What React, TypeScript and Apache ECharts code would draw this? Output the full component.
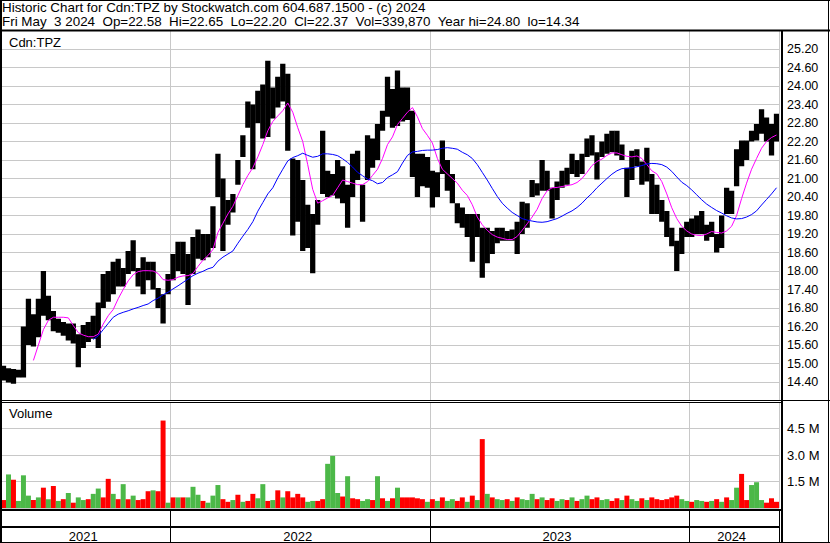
import React, { useEffect, useRef } from 'react';
import * as echarts from 'echarts';

// ---- data (weekly) ----
const FIRST_WEEK = '2021-05-10';

const WEEK_HIGH = [
  14.93, 14.85, 14.82, 14.8, 16.2, 17.1, 16.6, 17.1, 18.0, 17.2,
  16.7, 16.45, 16.35, 16.3, 16.3, 15.95, 16.25, 16.35, 16.55, 16.98,
  17.9, 18.0, 18.3, 18.4, 18.1, 18.65, 19.0, 18.1, 18.45, 18.3,
  18.3, 17.45, 17.25, 17.9, 18.55, 18.95, 18.95, 18.55, 19.1, 19.35,
  19.2, 19.2, 20.1, 21.8, 21.0, 20.3, 20.5, 21.6, 22.4, 23.5,
  23.4, 23.85, 24.05, 24.82, 23.95, 24.3, 24.72, 24.4, 21.65, 21.6,
  20.95, 20.15, 19.85, 20.3, 22.55, 21.25, 21.15, 21.6, 21.4, 20.8,
  21.8, 21.9, 20.8, 22.4, 22.3, 22.77, 23.2, 24.3, 23.9, 24.5,
  23.95, 23.95, 23.2, 21.8, 21.8, 21.7, 21.25, 21.2, 22.23, 21.6,
  21.15, 20.2, 20.06, 19.85, 19.85, 19.85, 19.4, 19.4, 19.3, 19.4,
  19.4, 19.3, 19.35, 19.6, 20.25, 20.2, 20.95, 20.85, 21.6, 21.25,
  20.7, 20.9, 21.25, 21.35, 21.8, 21.6, 21.8, 22.3, 22.4, 21.85,
  22.2, 22.45, 22.55, 22.55, 22.1, 21.35, 21.9, 21.95, 21.55, 22.0,
  21.15, 20.8, 20.3, 19.95, 19.4, 18.98, 19.4, 19.6, 19.7, 19.8,
  19.95, 19.5, 19.6, 19.2, 19.8, 20.7, 20.6, 21.95, 22.23, 22.23,
  22.55, 22.77, 23.25, 22.98, 22.77, 23.1,
];

const WEEK_LOW = [
  14.45, 14.38, 14.34, 14.55, 14.55, 15.6, 15.55, 15.85, 16.55, 16.4,
  16.05, 16.0, 15.9, 15.75, 15.65, 14.88, 15.5, 15.7, 15.8, 15.5,
  16.8, 17.0, 17.25, 17.5, 17.5, 17.9, 18.0, 17.5, 17.25, 17.7,
  17.4, 16.8, 16.3, 17.25, 17.7, 18.0, 17.9, 16.9, 17.9, 18.4,
  18.35, 18.45, 18.75, 20.4, 18.65, 19.5, 19.9, 20.8, 21.7, 22.65,
  21.3, 22.8, 22.3, 22.35, 22.95, 23.3, 23.5, 21.9, 19.15, 19.6,
  18.65, 18.75, 17.93, 19.5, 20.5, 20.4, 20.45, 20.35, 20.2, 19.4,
  20.4, 20.95, 19.6, 20.95, 21.35, 21.6, 22.55, 23.0, 22.65, 22.7,
  22.85, 22.9, 21.05, 20.4, 20.75, 20.7, 20.06, 20.4, 21.15, 20.6,
  20.2, 19.55, 19.4, 19.1, 18.3, 19.1, 17.78, 18.25, 18.55, 18.9,
  18.98, 18.98, 18.98, 18.55, 19.2, 19.4, 20.4, 20.45, 20.6, 20.6,
  19.7, 20.3, 20.7, 20.8, 21.15, 21.05, 21.15, 21.7, 21.75, 20.97,
  21.7, 21.8, 21.85, 21.75, 21.6, 20.4, 20.95, 21.4, 20.8, 20.9,
  19.85, 19.85, 19.6, 19.1, 18.8, 18.0, 18.55, 19.1, 19.1, 19.2,
  19.2, 18.98, 19.1, 18.6, 18.75, 19.85, 19.85, 20.75, 21.4, 21.6,
  22.2, 22.23, 22.45, 22.2, 21.75, 22.2,
];

const MA_50 = [
  null, null, null, null, null, null, 15.1, 15.6, 16.1, 16.4,
  16.5, 16.5, 16.5, 16.48, 16.23, 16.0, 15.92, 15.87, 15.87, 15.95,
  16.28, 16.55, 16.75, 17.1, 17.4, 17.68, 17.88, 17.98, 18.01, 18.01,
  18.0, 17.92, 17.72, 17.7, 17.72, 17.8, 17.84, 17.85, 17.92, 18.15,
  18.35, 18.5, 18.7, 19.25, 19.55, 19.85, 20.1, 20.45, 20.8, 21.1,
  21.35, 21.7, 22.1, 22.55, 22.85, 23.03, 23.2, 23.45, 23.15, 22.65,
  22.2, 21.45, 20.65, 20.2, 20.28, 20.37, 20.45, 20.7, 20.95, 20.9,
  20.85, 20.8, 20.8, 20.9, 21.1, 21.3, 21.65, 22.1, 22.35, 22.75,
  22.95, 23.15, 23.3, 23.0, 22.62, 22.4, 22.15, 21.65, 21.3, 21.15,
  21.0, 20.85, 20.62, 20.45, 20.15, 19.75, 19.5, 19.32, 19.18, 19.1,
  19.06, 19.02, 19.02, 19.12, 19.32, 19.53, 19.75, 20.0, 20.35, 20.6,
  20.7, 20.71, 20.74, 20.77, 20.8, 20.87, 21.0, 21.2, 21.42, 21.55,
  21.63, 21.75, 21.83, 21.83, 21.77, 21.72, 21.7, 21.73, 21.65, 21.45,
  21.25, 21.15, 20.9, 20.5, 20.05, 19.7, 19.45, 19.3, 19.2, 19.16,
  19.15, 19.2, 19.28, 19.25, 19.23, 19.3, 19.45, 19.8, 20.35, 20.85,
  21.3, 21.65, 21.98, 22.2, 22.33, 22.41,
];

const MA_200 = [
  null, null, null, null, null, null, null, null, null, null,
  null, null, null, null, null, null, null, null, 15.78, 15.9,
  16.1, 16.3, 16.5, 16.6, 16.66, 16.71, 16.77, 16.82, 16.88, 16.93,
  17.04, 17.12, 17.23, 17.31, 17.42, 17.52, 17.63, 17.74, 17.85, 17.93,
  17.99, 18.07, 18.12, 18.32, 18.45, 18.55, 18.65, 18.9, 19.13, 19.35,
  19.6, 19.94, 20.22, 20.5, 20.7, 21.02, 21.3, 21.57, 21.68, 21.74,
  21.82, 21.75, 21.69, 21.72, 21.8, 21.8, 21.78, 21.74, 21.64, 21.52,
  21.37, 21.2, 21.09, 20.98, 20.93, 20.83, 20.87, 21.03, 21.12, 21.22,
  21.5, 21.75, 21.86, 21.88, 21.91, 21.92, 21.92, 21.94, 21.98, 22.0,
  21.98, 21.95, 21.85, 21.77, 21.65, 21.45, 21.2, 20.95, 20.68, 20.42,
  20.2, 20.04, 19.9, 19.8, 19.7, 19.65, 19.62, 19.59, 19.58, 19.6,
  19.65, 19.7, 19.78, 19.87, 19.95, 20.06, 20.2, 20.37, 20.52, 20.7,
  20.85, 21.0, 21.14, 21.25, 21.32, 21.33, 21.35, 21.38, 21.42, 21.47,
  21.49, 21.48, 21.45, 21.37, 21.23, 21.05, 20.88, 20.77, 20.63, 20.47,
  20.31, 20.17, 20.06, 19.96, 19.88, 19.79, 19.72, 19.69, 19.7, 19.75,
  19.83, 19.95, 20.14, 20.32, 20.5, 20.7,
];

// volume in millions of shares
const VOLUME_M = [
  0.45, 1.9, 1.6, 0.4, 1.85, 0.7, 0.45, 0.6, 1.15, 0.5,
  1.25, 0.4, 0.5, 0.85, 0.3, 0.6, 0.45, 0.5, 0.8, 1.1,
  0.6, 1.65, 0.8, 0.5, 1.35, 0.5, 0.7, 0.45, 0.5, 0.95,
  1.0, 0.95, 4.95, 0.3, 0.6, 0.6, 0.6, 0.6, 1.2, 0.75,
  0.4, 0.3, 0.7, 1.3, 0.5, 0.35, 0.45, 0.75, 0.35, 0.4,
  0.8, 0.55, 1.35, 0.4, 0.45, 1.0, 0.6, 0.95, 0.6, 0.8,
  0.6, 0.35, 0.4, 0.4, 0.5, 2.5, 2.95, 0.85, 0.65, 1.8,
  0.55, 0.5, 0.4, 0.5, 0.45, 1.8, 0.55, 0.4, 0.55, 1.15,
  0.6, 0.6, 0.6, 0.55, 0.5, 0.35, 0.5, 0.4, 0.6, 0.4,
  0.5, 0.4, 0.6, 0.35, 0.7, 0.45, 3.9, 0.8, 0.6, 0.5,
  0.45, 0.5, 0.4, 0.6, 0.5, 0.45, 0.8, 0.5, 0.6, 0.45,
  0.55, 0.4, 0.5, 0.45, 0.6, 0.4, 0.5, 0.7, 0.5, 0.6,
  0.45, 0.5, 0.4, 0.55, 0.45, 0.7, 0.5, 0.4, 0.55, 0.45,
  0.6, 0.5, 0.45, 0.5, 0.6, 0.7, 0.5, 0.4, 0.35, 0.45,
  0.4, 0.35, 0.4, 0.5, 0.35, 0.6, 0.45, 1.15, 1.93, 0.45,
  1.3, 1.46, 0.45, 0.3, 0.55, 0.35,
];

// 1 = up (green), 0 = down (red)
const VOLUME_UP = [
  0, 1, 0, 1, 1, 1, 0, 1, 0, 1,
  0, 1, 0, 1, 0, 1, 1, 0, 1, 1,
  0, 0, 1, 0, 1, 0, 1, 0, 0, 0,
  1, 0, 0, 1, 0, 1, 0, 1, 1, 1,
  0, 1, 1, 1, 0, 0, 1, 0, 1, 0,
  0, 1, 1, 0, 1, 0, 1, 0, 0, 0,
  0, 1, 1, 0, 0, 1, 1, 1, 0, 1,
  0, 0, 1, 1, 0, 1, 0, 1, 0, 1,
  0, 0, 0, 0, 0, 1, 0, 1, 0, 1,
  1, 0, 0, 1, 0, 1, 0, 1, 0, 1,
  1, 0, 1, 0, 1, 1, 1, 0, 1, 0,
  0, 1, 1, 0, 1, 0, 1, 1, 0, 0,
  1, 1, 0, 0, 1, 0, 1, 1, 0, 1,
  0, 0, 0, 0, 0, 0, 1, 1, 0, 1,
  1, 0, 1, 0, 1, 0, 1, 1, 0, 0,
  1, 1, 1, 0, 0, 0,
];

const PRICE_MIN = 13.8;
const PRICE_MAX = 25.8;
const PRICE_STEP = 0.6;
const VOL_MAX = 6e6;
const VOL_STEP = 1.5e6;

const TITLE_1 = 'Historic Chart for Cdn:TPZ by Stockwatch.com 604.687.1500 - (c) 2024';
const TITLE_2 = 'Fri May\u00a0 3 2024\u00a0 Op=22.58\u00a0 Hi=22.65\u00a0 Lo=22.20\u00a0 Cl=22.37\u00a0 Vol=339,870\u00a0 Year hi=24.80\u00a0 lo=14.34';
const SYMBOL = 'Cdn:TPZ';
const VOLUME_TITLE = 'Volume';

const FONT = '"Liberation Sans", Arial, Helvetica, sans-serif';
const GREEN = '#4cb848';
const RED = '#ff0000';
const GRID_GRAY = '#c8c8c8';

function buildWeeks(n: number): string[] {
  const out: string[] = [];
  const t0 = new Date(FIRST_WEEK + 'T12:00:00Z').getTime();
  for (let i = 0; i < n; i++) {
    out.push(new Date(t0 + i * 7 * 86400000).toISOString().slice(0, 10));
  }
  return out;
}

export default function App() {
  const ref = useRef<HTMLDivElement>(null);

  useEffect(() => {
    document.body.style.margin = '0';
    if (!ref.current) return;
    const chart = echarts.init(ref.current, undefined, { renderer: 'svg' });

    const weeks = buildWeeks(WEEK_HIGH.length);
    const yearStarts: number[] = [];
    for (let i = 1; i < weeks.length; i++) {
      if (weeks[i].slice(0, 4) !== weeks[i - 1].slice(0, 4)) yearStarts.push(i);
    }
    const bounds = [0, ...yearStarts, weeks.length];
    const labelIdx: number[] = [];
    for (let k = 0; k < bounds.length - 1; k++) {
      labelIdx.push(Math.floor((bounds[k] + bounds[k + 1] - 1) / 2));
    }
    const isYearStart = (i: number) => yearStarts.indexOf(i) >= 0;
    const isLabel = (i: number) => labelIdx.indexOf(i) >= 0;

    const priceData = WEEK_LOW.map((lo, i) => [i, lo, WEEK_HIGH[i]]);
    const volData = VOLUME_M.map((v, i) => ({
      value: v * 1e6,
      itemStyle: { color: VOLUME_UP[i] ? GREEN : RED },
    }));

    const xAxisBase = (gi: number) => ({
      type: 'category',
      gridIndex: gi,
      data: weeks,
      boundaryGap: true,
      axisLine: { show: false },
      axisTick: { show: false },
      axisLabel: { show: false },
      splitLine: { show: true, interval: (i: number) => isYearStart(i), lineStyle: { color: GRID_GRAY, width: 1 } },
    });

    const line = (x1: number, y1: number, x2: number, y2: number, w: number) => ({
      type: 'line',
      z: 100,
      silent: true,
      shape: { x1, y1, x2, y2 },
      style: { stroke: '#000', lineWidth: w },
    });
    const text = (x: number, y: number, t: string, size: number) => ({
      type: 'text',
      z: 100,
      x,
      y,
      style: { text: t, fill: '#000', fontSize: size, fontFamily: FONT, verticalAlign: 'middle', align: 'left' },
    });

    const option: any = {
      animation: false,
      backgroundColor: '#ffffff',
      textStyle: { fontFamily: FONT },
      grid: [
        { left: 1, top: 30.5, width: 778, height: 370 },
        { left: 1, top: 402, width: 778, height: 106 },
        { left: 1, top: 510, width: 778, height: 16.5 },
      ],
      xAxis: [
        xAxisBase(0),
        xAxisBase(1),
        {
          ...xAxisBase(2),
          axisLine: { show: true, lineStyle: { color: '#000', width: 2 } },
          axisTick: { show: true, interval: (i: number) => isYearStart(i), length: 16, lineStyle: { color: '#000', width: 1 } },
          axisLabel: {
            show: true,
            interval: (i: number) => isLabel(i),
            formatter: (v: string) => v.slice(0, 4),
            fontSize: 13,
            color: '#000',
            margin: 3,
            fontFamily: FONT,
          },
          splitLine: { show: true, interval: (i: number) => isYearStart(i), lineStyle: { color: '#000', width: 1 } },
        },
      ],
      yAxis: [
        {
          type: 'value',
          gridIndex: 0,
          position: 'right',
          min: PRICE_MIN,
          max: PRICE_MAX,
          interval: PRICE_STEP,
          axisLine: { show: false },
          axisTick: { show: false },
          axisLabel: {
            margin: 8,
            fontSize: 12.5,
            color: '#000',
            fontFamily: FONT,
            formatter: (v: number) => (v < PRICE_MIN + 0.3 || v > PRICE_MAX - 0.3 ? '' : v.toFixed(2)),
          },
          splitLine: { lineStyle: { color: GRID_GRAY, width: 1 } },
        },
        {
          type: 'value',
          gridIndex: 1,
          position: 'right',
          min: 0,
          max: VOL_MAX,
          interval: VOL_STEP,
          axisLine: { show: false },
          axisTick: { show: false },
          axisLabel: {
            margin: 8,
            fontSize: 13,
            color: '#000',
            fontFamily: FONT,
            formatter: (v: number) => (v <= 0 || v >= VOL_MAX ? '' : (v / 1e6).toFixed(1) + ' M'),
          },
          splitLine: { lineStyle: { color: GRID_GRAY, width: 1 } },
        },
        { type: 'value', gridIndex: 2, show: false, splitLine: { show: false } },
      ],
      series: [
        {
          type: 'custom',
          name: 'Price',
          xAxisIndex: 0,
          yAxisIndex: 0,
          z: 2,
          clip: true,
          encode: { x: 0, y: [1, 2] },
          data: priceData,
          renderItem: (_p: any, api: any) => {
            const i = api.value(0);
            const top = api.coord([i, api.value(2)]);
            const bot = api.coord([i, api.value(1)]);
            const w = api.size([1, 0])[0] + 0.3;
            return {
              type: 'rect',
              shape: { x: top[0] - w / 2, y: top[1], width: w, height: Math.max(1, bot[1] - top[1]) },
              style: { fill: '#000' },
            };
          },
        },
        {
          type: 'line',
          name: 'MA 50',
          xAxisIndex: 0,
          yAxisIndex: 0,
          z: 3,
          data: MA_50,
          showSymbol: false,
          connectNulls: false,
          lineStyle: { color: '#ff00ff', width: 1 },
          itemStyle: { color: '#ff00ff' },
        },
        {
          type: 'line',
          name: 'MA 200',
          xAxisIndex: 0,
          yAxisIndex: 0,
          z: 3,
          data: MA_200,
          showSymbol: false,
          connectNulls: false,
          lineStyle: { color: '#0000ff', width: 1 },
          itemStyle: { color: '#0000ff' },
        },
        {
          type: 'bar',
          name: 'Volume',
          xAxisIndex: 1,
          yAxisIndex: 1,
          barWidth: '100%',
          data: volData,
        },
      ],
      graphic: [
        line(0, 0.5, 830, 0.5, 1),
        line(1, 0, 1, 543, 2),
        line(828.5, 0, 828.5, 543, 1),
        line(0, 542.5, 830, 542.5, 1),
        line(0, 30.5, 830, 30.5, 2),
        line(782, 30, 782, 543, 2),
        line(0, 400.5, 830, 400.5, 1),
        line(0, 402.5, 782, 402.5, 1),
        line(0, 510, 782, 510, 2),
        text(2, 7.6, TITLE_1, 13.4),
        text(2, 21.2, TITLE_2, 13.4),
        text(9, 42.2, SYMBOL, 13),
        text(9, 413.8, VOLUME_TITLE, 13),
      ],
    };

    chart.setOption(option);
    return () => chart.dispose();
  }, []);

  return <div ref={ref} style={{ width: 830, height: 543 }} />;
}
